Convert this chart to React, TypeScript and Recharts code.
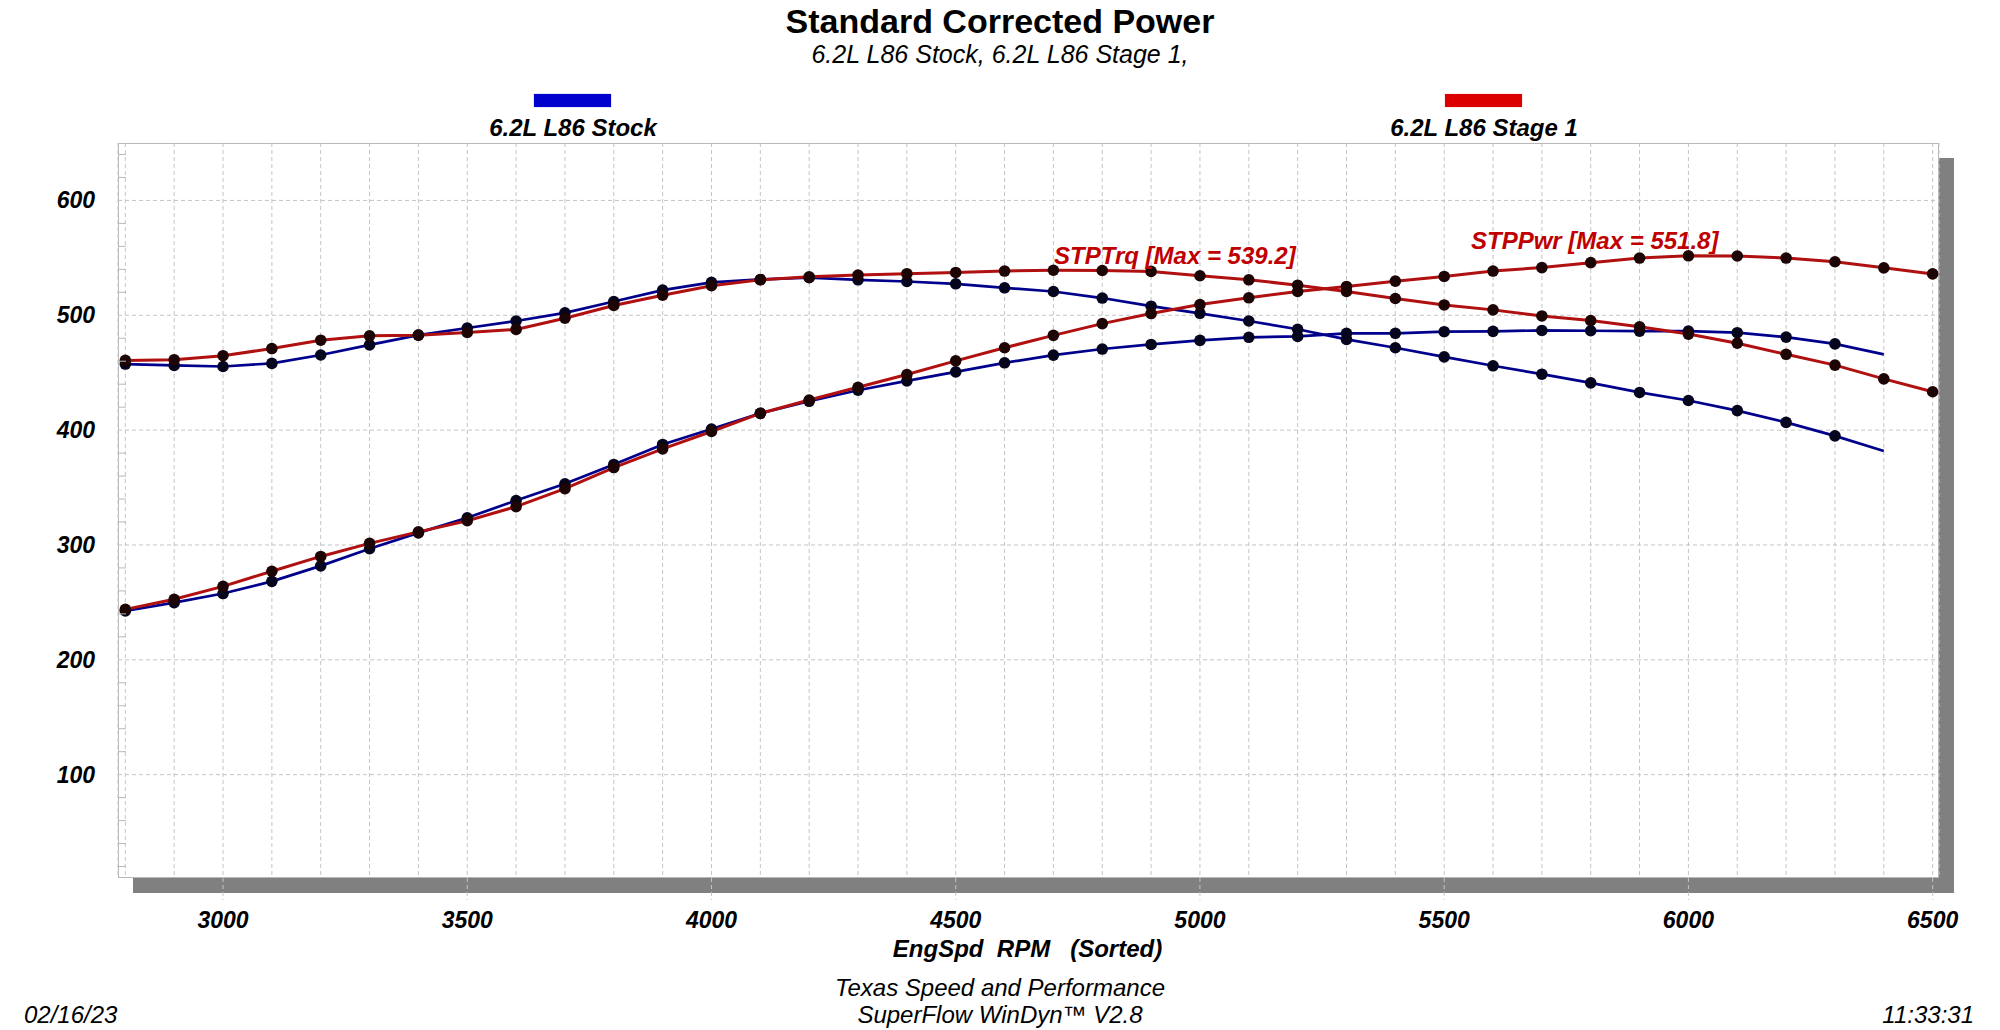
import React from 'react';
import { LineChart, Line, XAxis, YAxis, CartesianGrid } from 'recharts';

const rpm = [
  2800, 2900, 3000, 3100, 3200, 3300, 3400, 3500, 3600, 3700,
  3800, 3900, 4000, 4100, 4200, 4300, 4400, 4500, 4600, 4700,
  4800, 4900, 5000, 5100, 5200, 5300, 5400, 5500, 5600, 5700,
  5800, 5900, 6000, 6100, 6200, 6300, 6400, 6500,
];

// 6.2L L86 Stock (2800 - 6400 rpm)
const stockTrq = [
  457.5, 456.3, 455.4, 458.1, 465.4, 474.2, 482.7, 488.9, 495.0, 502.1,
  512.0, 521.9, 528.6, 531.2, 532.7, 530.9, 529.4, 527.4, 523.9, 520.7,
  515.0, 507.9, 501.7, 495.0, 487.8, 479.0, 471.7, 463.8, 456.0, 448.7,
  441.1, 432.8, 425.8, 417.0, 406.7, 395.0, 381.8,
];
const stockPwr = [
  242.5, 249.8, 257.7, 268.3, 281.8, 296.7, 310.5, 323.7, 338.7, 353.3,
  370.1, 387.5, 400.9, 414.6, 425.1, 434.7, 442.9, 450.7, 458.6, 465.3,
  470.6, 474.6, 478.1, 480.8, 481.6, 484.3, 484.3, 485.7, 486.0, 486.8,
  486.5, 486.2, 486.2, 484.8, 481.0, 475.1, 466.0,
];

// 6.2L L86 Stage 1 (2800 - 6500 rpm)
const stageTrq = [
  460.7, 461.3, 464.8, 471.0, 478.3, 482.1, 482.7, 485.0, 487.7, 497.4,
  508.5, 517.5, 525.7, 530.9, 533.5, 535.0, 536.2, 537.3, 538.5, 539.2,
  539.0, 538.2, 534.4, 530.9, 526.2, 520.7, 514.6, 509.0, 504.7, 499.4,
  495.4, 490.0, 483.6, 475.7, 466.0, 456.6, 444.6, 433.4,
];
const stagePwr = [
  243.9, 252.7, 263.9, 277.1, 290.0, 301.4, 311.4, 321.1, 333.4, 349.0,
  367.4, 383.7, 398.8, 414.6, 426.2, 437.3, 448.4, 460.3, 471.7, 482.5,
  492.7, 501.5, 509.3, 515.2, 520.7, 525.1, 529.7, 533.8, 538.5, 541.5,
  545.8, 549.8, 551.8, 551.6, 549.8, 546.6, 541.3, 536.0,
];

const xLabels = [3000, 3500, 4000, 4500, 5000, 5500, 6000, 6500];
const yTicks = [
  20, 40, 60, 80, 100, 120, 140, 160, 180, 200, 220, 240, 260, 280, 300, 320,
  340, 360, 380, 400, 420, 440, 460, 480, 500, 520, 540, 560, 580, 600, 620, 640,
];
const yLabels = [100, 200, 300, 400, 500, 600];

const data = rpm.map((r, i) => ({
  rpm: r,
  stockTrq: stockTrq[i],
  stockPwr: stockPwr[i],
  stageTrq: stageTrq[i],
  stagePwr: stagePwr[i],
}));

const FONT = '"Liberation Sans", Arial, sans-serif';
const BLUE = '#00008c';
const RED = '#b01010';

function XTick(props: any) {
  const { x, y, payload } = props;
  if (!xLabels.includes(payload.value)) return <g />;
  return (
    <g>
      <line x1={x} x2={x} y1={y - 8} y2={y + 14} stroke="#c4c4c4" strokeDasharray="4 3" />
      <text x={x} y={y + 42} textAnchor="middle" fontFamily={FONT} fontSize={23}
        fontWeight="bold" fontStyle="italic" fill="#000">
        {payload.value}
      </text>
    </g>
  );
}

function YTick(props: any) {
  const { x, y, payload } = props;
  if (yLabels.includes(payload.value)) {
    return (
      <text x={x - 15} y={y + 8} textAnchor="end" fontFamily={FONT} fontSize={23}
        fontWeight="bold" fontStyle="italic" fill="#000">
        {payload.value}
      </text>
    );
  }
  return <line x1={x + 8} x2={x + 16} y1={y} y2={y} stroke="#b8b8b8" />;
}

function makeDot(fill: string, skipLast: number) {
  return (p: any) => {
    if (p.index === skipLast || p.cy == null) return <g key={`d-${p.index}`} />;
    return <circle key={`d-${p.index}`} cx={p.cx} cy={p.cy} r={5.8} fill={fill} />;
  };
}

const abs = (left: number, top: number, extra: React.CSSProperties = {}): React.CSSProperties => ({
  position: 'absolute', left, top, fontFamily: FONT, whiteSpace: 'pre', ...extra,
});

export default function App() {
  return (
    <div style={{ position: 'absolute', left: 0, top: 0, width: 2000, height: 1030, background: '#fff', overflow: 'hidden' }}>
      <div style={abs(0, 2, { width: 2000, textAlign: 'center', fontSize: 34, fontWeight: 'bold' })}>
        Standard Corrected Power
      </div>
      <div style={abs(0, 40, { width: 2000, textAlign: 'center', fontSize: 25, fontStyle: 'italic' })}>
        6.2L L86 Stock, 6.2L L86 Stage 1,
      </div>

      <div style={abs(534, 94, { width: 77, height: 13, background: '#0000cc', boxShadow: '0 0 1px #6666ff' })} />
      <div style={abs(1445, 94, { width: 77, height: 13, background: '#dd0000', boxShadow: '0 0 1px #ff8888' })} />
      <div style={abs(373, 114, { width: 400, textAlign: 'center', fontSize: 24, fontWeight: 'bold', fontStyle: 'italic' })}>
        6.2L L86 Stock
      </div>
      <div style={abs(1284, 114, { width: 400, textAlign: 'center', fontSize: 24, fontWeight: 'bold', fontStyle: 'italic' })}>
        6.2L L86 Stage 1
      </div>

      <div style={abs(133, 158, { width: 1821, height: 735, background: '#808080' })} />
      <div style={abs(118, 143, { width: 1821, height: 735, background: '#fff', border: '1px solid #b8b8b8', boxSizing: 'border-box' })} />

      <div style={{ position: 'absolute', left: 0, top: 0 }}>
        <LineChart width={2000} height={1030} data={data}
          margin={{ top: 143, right: 61, bottom: 92, left: 18 }}>
          <CartesianGrid stroke="#c4c4c4" strokeDasharray="4 3"
            horizontalValues={yLabels} />
          <XAxis dataKey="rpm" type="number" domain={[2785, 6513]} ticks={rpm}
            interval={0} tick={<XTick />} tickLine={false} axisLine={false}
            height={60} allowDataOverflow />
          <YAxis type="number" domain={[10, 650]} ticks={yTicks} interval={0}
            tick={<YTick />} tickLine={false} axisLine={false} width={100}
            allowDataOverflow />
          <Line dataKey="stockTrq" stroke={BLUE} strokeWidth={2.7} dot={makeDot('#05051e', stockTrq.length - 1)}
            isAnimationActive={false} connectNulls={false} />
          <Line dataKey="stockPwr" stroke={BLUE} strokeWidth={2.7} dot={makeDot('#05051e', stockPwr.length - 1)}
            isAnimationActive={false} connectNulls={false} />
          <Line dataKey="stageTrq" stroke={RED} strokeWidth={3} dot={makeDot('#1e0505', -1)}
            isAnimationActive={false} />
          <Line dataKey="stagePwr" stroke={RED} strokeWidth={3} dot={makeDot('#1e0505', -1)}
            isAnimationActive={false} />
        </LineChart>
      </div>

      <div style={abs(1054, 242, { fontSize: 24, fontWeight: 'bold', fontStyle: 'italic', color: '#c00000' })}>
        STPTrq [Max = 539.2]
      </div>
      <div style={abs(1471, 227, { fontSize: 24, fontWeight: 'bold', fontStyle: 'italic', color: '#c00000' })}>
        STPPwr [Max = 551.8]
      </div>

      <div style={abs(0, 935, { width: 2055, textAlign: 'center', fontSize: 24, fontWeight: 'bold', fontStyle: 'italic' })}>
        {'EngSpd  RPM   (Sorted)'}
      </div>
      <div style={abs(0, 974, { width: 2000, textAlign: 'center', fontSize: 24, fontStyle: 'italic' })}>
        Texas Speed and Performance
      </div>
      <div style={abs(0, 1001, { width: 2000, textAlign: 'center', fontSize: 24, fontStyle: 'italic' })}>
        SuperFlow WinDyn™ V2.8
      </div>
      <div style={abs(24, 1001, { fontSize: 24, fontStyle: 'italic' })}>02/16/23</div>
      <div style={abs(1800, 1001, { width: 174, textAlign: 'right', fontSize: 24, fontStyle: 'italic' })}>11:33:31</div>
    </div>
  );
}
